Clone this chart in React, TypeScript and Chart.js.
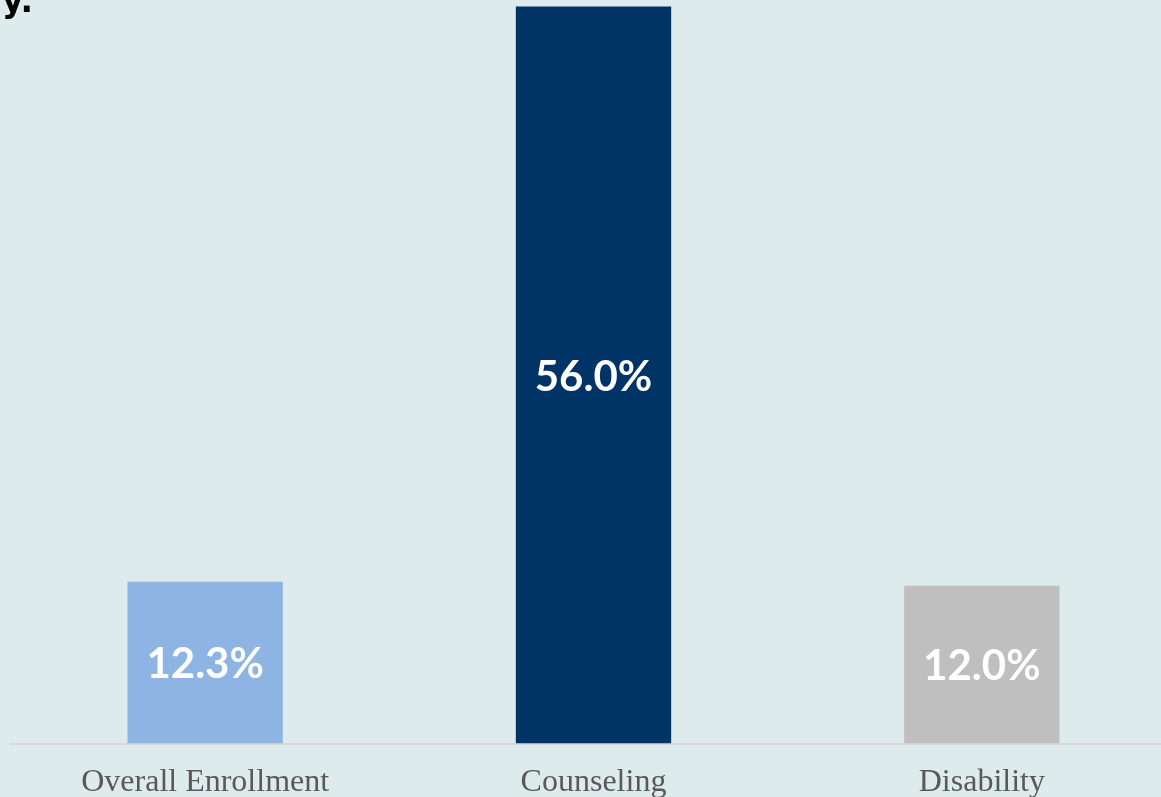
import React, { useEffect, useRef } from "react";
import { Chart, registerables } from "chart.js";

Chart.register(...registerables);

const categories = ["Overall Enrollment", "Counseling", "Disability"];
const values = [12.3, 56.0, 12.0];
const valueLabels = ["12.3%", "56.0%", "12.0%"];
const barColors = ["#8EB4E3", "#003366", "#BFBFBF"];
const titleFragment = "y.";
const yAxisMax = 56.5;

const BG = "#DEEBEC";

const labelPlugin = {
  id: "barValueLabels",
  afterDatasetsDraw(chart: any) {
    const ctx = chart.ctx;
    const meta = chart.getDatasetMeta(0);
    ctx.save();
    ctx.fillStyle = "#FFFFFF";
    ctx.font = "bold 42px Lato";
    ctx.textAlign = "center";
    ctx.textBaseline = "middle";
    meta.data.forEach((bar: any, i: number) => {
      const cy = (bar.y + bar.base) / 2;
      ctx.fillText(valueLabels[i], bar.x, cy + 2);
    });
    ctx.restore();
  },
};

const titlePlugin = {
  id: "titleFragment",
  afterDraw(chart: any) {
    const ctx = chart.ctx;
    ctx.save();
    ctx.fillStyle = "#000000";
    ctx.font = "bold 33px 'DejaVu Sans'";
    ctx.textAlign = "left";
    ctx.textBaseline = "alphabetic";
    ctx.fillText(titleFragment, 2, 12);
    ctx.restore();
  },
};

export default function App() {
  const canvasRef = useRef<HTMLCanvasElement | null>(null);

  useEffect(() => {
    document.body.style.margin = "0";
    document.body.style.overflow = "hidden";
    document.body.style.background = BG;
    const chart = new Chart(canvasRef.current as HTMLCanvasElement, {
      type: "bar",
      data: {
        labels: categories,
        datasets: [
          {
            data: values,
            backgroundColor: barColors,
            borderWidth: 0,
            categoryPercentage: 0.8,
            barPercentage: 0.5,
          },
        ],
      },
      options: {
        animation: false,
        responsive: false,
        devicePixelRatio: 1,
        layout: { padding: { left: 11, right: 24, top: 0, bottom: 0 } },
        plugins: {
          legend: { display: false },
          tooltip: { enabled: false },
          title: { display: false },
        },
        scales: {
          x: {
            grid: { display: false, drawTicks: false },
            border: { display: true, color: "#D9D9D9", width: 2 },
            ticks: {
              color: "#595959",
              padding: 20,
              font: { family: "'Liberation Serif'", size: 32, lineHeight: 1.2 },
              maxRotation: 0,
              autoSkip: false,
            },
          },
          y: {
            display: false,
            min: 0,
            max: yAxisMax,
          },
        },
      },
      plugins: [labelPlugin, titlePlugin],
    });
    return () => chart.destroy();
  }, []);

  return (
    <div
      style={{
        position: "fixed",
        left: 0,
        top: 0,
        width: 1161,
        height: 797,
        overflow: "hidden",
        background: BG,
      }}
    >
      <canvas
        ref={canvasRef}
        width={1200}
        height={822}
        style={{ position: "absolute", left: 0, top: 0, display: "block" }}
      />
    </div>
  );
}
